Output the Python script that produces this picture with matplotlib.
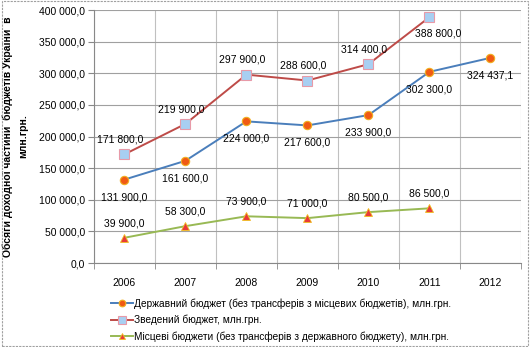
import numpy as np
import matplotlib.pyplot as plt
from matplotlib.patches import Rectangle

years = ['2006', '2007', '2008', '2009', '2010', '2011', '2012']
derzh = [131900, 161600, 224000, 217600, 233900, 302300, 324437.1]
zved = [171800, 219900, 297900, 288600, 314400, 388800]
misc = [39900, 58300, 73900, 71000, 80500, 86500]

names = ['Державний бюджет (без трансферів з місцевих бюджетів), млн.грн.',
         'Зведений бюджет, млн.грн.',
         'Місцеві бюджети (без трансферів з державного бюджету), млн.грн.']


def fmt(v):
    s = '{:,.1f}'.format(v).replace(',', ' ').replace('.', ',')
    return s


plt.rcParams['font.family'] = ['Liberation Sans', 'DejaVu Sans']
fig = plt.figure(figsize=(5.30, 3.47), dpi=100)
ax = fig.add_axes([0.177, 0.242, 0.806, 0.729])

x = np.arange(len(years))
l1, = ax.plot(x[:len(derzh)], derzh, color='#4a7ebb', lw=1.4, marker='o', ms=6,
              mfc='#f05a14', mec='#f0b020', mew=0.8, zorder=3)
l2, = ax.plot(x[:len(zved)], zved, color='#be4b48', lw=1.4, marker='s', ms=6.5,
              mfc='#a8cff2', mec='#e89aa8', mew=0.8, zorder=3)
l3, = ax.plot(x[:len(misc)], misc, color='#98b954', lw=1.4, marker='^', ms=6,
              mfc='#e83a3a', mec='#f0c020', mew=0.6, zorder=3)

for i, v in enumerate(derzh):
    ax.annotate(fmt(v), (x[i], v), xytext=(0, -9), textcoords='offset points',
                ha='center', va='top', fontsize=7.5)
for i, v in enumerate(zved):
    off = (-3, 7) if i < 5 else (6, -8)
    va = 'bottom' if i < 5 else 'top'
    ax.annotate(fmt(v), (x[i], v), xytext=off, textcoords='offset points',
                ha='center', va=va, fontsize=7.5)
for i, v in enumerate(misc):
    ax.annotate(fmt(v), (x[i], v), xytext=(0, 7), textcoords='offset points',
                ha='center', va='bottom', fontsize=7.5)

ax.set_xlim(-0.5, len(years) - 0.5)
ax.set_ylim(0, 400000)
ax.set_yticks(np.arange(0, 400001, 50000))
ax.set_yticklabels([fmt(v) for v in np.arange(0, 400001, 50000)], fontsize=7.5)
ax.set_xticks(x)
ax.set_xticklabels(years, fontsize=7.5)
ax.set_xticks(np.arange(-0.5, len(years), 1), minor=True)
ax.tick_params(axis='x', which='major', length=0, pad=11)
ax.tick_params(axis='x', which='minor', length=4, color='#888888')
ax.tick_params(axis='y', length=4, color='#888888', pad=2)
ax.grid(True, axis='y', color='#a0a0a0', lw=0.8)
ax.grid(True, axis='x', which='minor', color='#c0c0c0', lw=0.8)
for s in ['top', 'right']:
    ax.spines[s].set_visible(False)
for s in ['left', 'bottom']:
    ax.spines[s].set_color('#888888')
ax.set_ylabel('Обсяги доходної частини  бюджетів України  в\nмлн.грн.',
              fontsize=7.5, fontweight='bold', labelpad=8, linespacing=1.6)

fig.legend([l1, l2, l3], names, loc='upper left', bbox_to_anchor=(0.2, 0.155),
           frameon=False, fontsize=7.3, handlelength=2.2, handletextpad=0.1,
           labelspacing=0.6, borderpad=0, markerscale=0.8)

fig.patches.append(Rectangle((0.004, 0.004), 0.992, 0.992, transform=fig.transFigure,
                             fill=False, ec='#a0a0a0', lw=0.8, ls=(0, (2, 1))))

fig.savefig('out.png', dpi=100)
